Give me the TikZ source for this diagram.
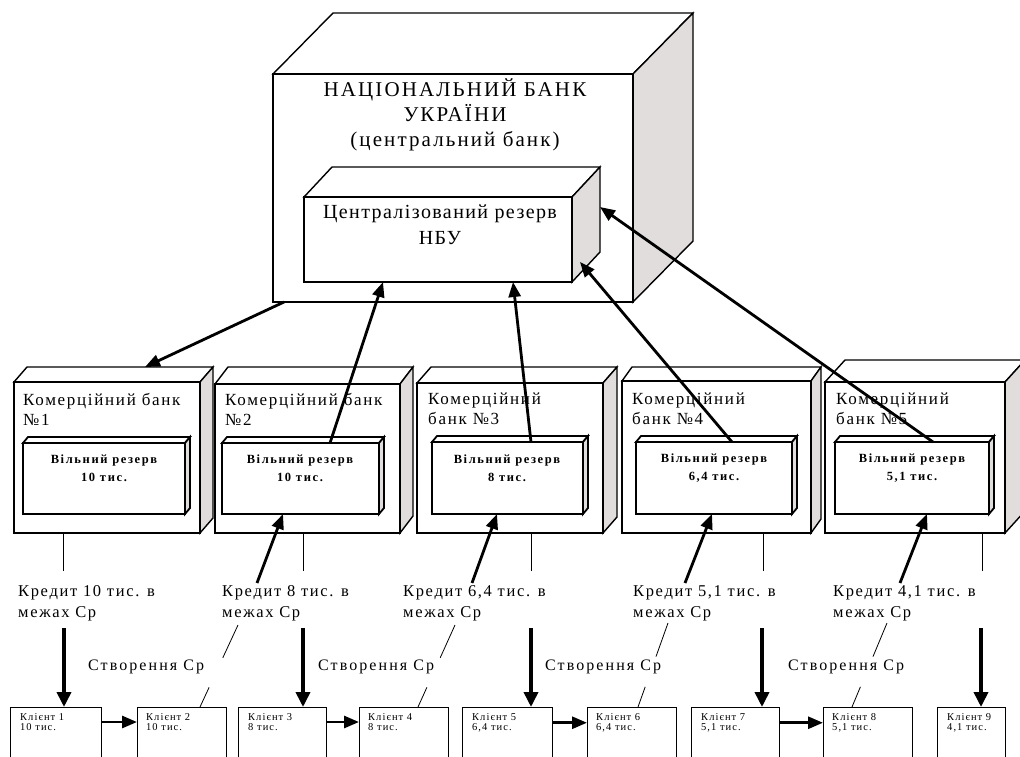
\documentclass[tikz,border=0pt]{standalone}
\usepackage{fontspec}
\setmainfont{Liberation Serif}
\newfontfamily\spA{Liberation Serif}[LetterSpace=7]
\newfontfamily\spB{Liberation Serif}[LetterSpace=10]
\newfontfamily\spC{Liberation Serif}[LetterSpace=13]
\usetikzlibrary{arrows.meta,calc}
\definecolor{sidegray}{RGB}{225,221,220}
\tikzset{
  frame/.style={draw=black, fill=white, inner sep=0pt, outer sep=0pt, rectangle},
  side/.style={draw=black, fill=sidegray, line join=miter},
  topf/.style={draw=black, fill=white, line join=miter},
  bigarrow/.style={line width=2.8pt, -{Triangle[length=15pt,width=12pt]}},
  downarrow/.style={line width=3.6pt, -{Triangle[length=15pt,width=14pt]}},
  thinline/.style={line width=0.9pt},
  callout/.style={line width=0.8pt},
  nbutext/.style={align=center, font=\spB\fontsize{21}{25}\selectfont, inner sep=0pt},
  crtext/.style={align=center, font=\spA\fontsize{20}{26}\selectfont, inner sep=0pt},
  banktext/.style={align=left, anchor=north west, font=\spB\fontsize{17}{20}\selectfont, inner sep=0pt},
  restext/.style={align=center, font=\spC\bfseries\fontsize{12.5}{18}\selectfont, inner sep=0pt},
  credtext/.style={align=left, anchor=north west, font=\spB\fontsize{16.5}{21}\selectfont, inner sep=0pt},
  cretext/.style={anchor=west, font=\spC\fontsize{16}{20}\selectfont, inner sep=0pt},
  client/.style={draw=black, line width=1.3pt, fill=white, inner sep=0pt, anchor=north west, minimum width=#1, minimum height=80pt},
  clienttext/.style={align=left, anchor=north west, font=\spB\fontsize{10.5}{10.5}\selectfont, inner sep=0pt},
}
% #1 name, #2 left, #3 top, #4 right, #5 bottom, #6 dx, #7 dy (up), #8 line width
\newcommand\boxthree[8]{%
  \draw[topf, line width=#8] (#2,#3) -- ++(#6,-#7) -- ++({#4-#2},0) -- (#4,#3) -- cycle;
  \draw[side, line width=#8] (#4,#3) -- ++(#6,-#7) -- ++(0,{#5-#3}) -- (#4,#5) -- cycle;
  \node[frame, line width=#8, anchor=north west, minimum width={(#4-#2)*1pt}, minimum height={(#5-#3)*1pt}] (#1) at (#2,#3) {};
}
\begin{document}
\begin{tikzpicture}[x=1pt,y=-1pt]
\useasboundingbox (0,0) rectangle (1020,756);
\clip (0,0) rectangle (1020,756);

% National bank
\boxthree{nbu}{273}{74}{633}{302}{60}{61}{1.4pt}
\node[nbutext] (nbut) at (455,115) {НАЦІОНАЛЬНИЙ БАНК\\УКРАЇНИ\\(центральний банк)};
\boxthree{cres}{304}{197}{572}{282}{28}{30}{1.4pt}
\node[crtext] (crest) at (440,225) {Централізований резерв\\НБУ};

% Commercial banks
\boxthree{b1}{14}{382}{200}{533}{13}{15}{1.4pt}
\boxthree{b2}{215}{384}{400}{533}{13}{17}{1.4pt}
\boxthree{b3}{417}{383}{603}{533}{14}{16}{1.4pt}
\boxthree{b4}{622}{381}{811}{533}{10}{14}{1.4pt}
\boxthree{b5}{825}{382}{1005}{533}{20}{22}{1.4pt}

\node[banktext] (bt1) at (23,393) {Комерційний банк\\№1};
\node[banktext] (bt2) at (225,393) {Комерційний банк\\№2};
\node[banktext] (bt3) at (428,393) {Комерційний\\банк №3};
\node[banktext] (bt4) at (632,393) {Комерційний\\банк №4};
\node[banktext] (bt5) at (836,393) {Комерційний\\банк №5};

% Free reserves
\boxthree{r1}{23}{443}{185}{514}{5}{6}{1.8pt}
\boxthree{r2}{222}{443}{379}{514}{5}{6}{1.8pt}
\boxthree{r3}{432}{442}{583}{514}{5}{6}{1.8pt}
\boxthree{r4}{636}{442}{792}{514}{5}{6}{1.8pt}
\boxthree{r5}{835}{442}{989}{514}{5}{6}{1.8pt}
\node[restext] (rt1) at (104,468) {Вільний резерв\\10 тис.};
\node[restext] (rt2) at (300,468) {Вільний резерв\\10 тис.};
\node[restext] (rt3) at (507,468) {Вільний резерв\\8 тис.};
\node[restext] (rt4) at (714,468) {Вільний резерв\\6,4 тис.};
\node[restext] (rt5) at (912,468) {Вільний резерв\\5,1 тис.};

% Credit labels
\node[credtext] (k1) at (18,585) {Кредит 10 тис. в\\межах Ср};
\node[credtext] (k2) at (222,585) {Кредит 8 тис. в\\межах Ср};
\node[credtext] (k3) at (403,585) {Кредит 6,4 тис. в\\межах Ср};
\node[credtext] (k4) at (633,585) {Кредит 5,1 тис. в\\межах Ср};
\node[credtext] (k5) at (833,585) {Кредит 4,1 тис. в\\межах Ср};

% "Створення Ср" labels
\node[cretext] (s1) at (88,667) {Створення Ср};
\node[cretext] (s2) at (318,667) {Створення Ср};
\node[cretext] (s3) at (545,667) {Створення Ср};
\node[cretext] (s4) at (788,667) {Створення Ср};

% Clients
\node[client=91pt] (c1) at (10,707) {};
\node[client=89pt] (c2) at (137,707) {};
\node[client=88pt] (c3) at (238,707) {};
\node[client=89pt] (c4) at (359,707) {};
\node[client=90pt] (c5) at (462,707) {};
\node[client=89pt] (c6) at (587,707) {};
\node[client=88pt] (c7) at (691,707) {};
\node[client=89pt] (c8) at (823,707) {};
\node[client=68pt] (c9) at (937,707) {};
\node[clienttext] (ct1) at (20,713) {Клієнт 1\\10 тис.};
\node[clienttext] (ct2) at (146,713) {Клієнт 2\\10 тис.};
\node[clienttext] (ct3) at (248,713) {Клієнт 3\\8 тис.};
\node[clienttext] (ct4) at (368,713) {Клієнт 4\\8 тис.};
\node[clienttext] (ct5) at (472,713) {Клієнт 5\\6,4 тис.};
\node[clienttext] (ct6) at (596,713) {Клієнт 6\\6,4 тис.};
\node[clienttext] (ct7) at (701,713) {Клієнт 7\\5,1 тис.};
\node[clienttext] (ct8) at (832,713) {Клієнт 8\\5,1 тис.};
\node[clienttext] (ct9) at (947,713) {Клієнт 9\\4,1 тис.};

% Arrows between NBU and banks
\draw[bigarrow] ([xshift=11pt]nbu.south west) -- ([xshift=131pt,yshift=15pt]b1.north west);
\draw[bigarrow] ([xshift=108pt]r2.north west) -- ([xshift=79pt]cres.south west);
\draw[bigarrow] ([xshift=99pt]r3.north west) -- ([xshift=209pt]cres.south west);
\draw[bigarrow] ([xshift=96pt]r4.north west) -- ([xshift=8pt,yshift=20pt]cres.south east);
\draw[bigarrow] ([xshift=98pt]r5.north west) -- ([xshift=28pt,yshift=-10pt]cres.north east);

% Thin lines from banks to credit labels
\coordinate (l1) at (63,571);
\coordinate (l2) at (303,571);
\coordinate (l3) at (531,571);
\coordinate (l4) at (763,571);
\coordinate (l5) at (982,571);
\draw[thinline] (b1.south west -| l1) -- (l1);
\draw[thinline] (b2.south west -| l2) -- (l2);
\draw[thinline] (b3.south west -| l3) -- (l3);
\draw[thinline] (b4.south west -| l4) -- (l4);
\draw[thinline] (b5.south west -| l5) -- (l5);

% Credit arrows back to free reserves
\coordinate (u2) at (257,583);
\coordinate (u3) at (472,583);
\coordinate (u4) at (685,583);
\coordinate (u5) at (900,583);
\draw[bigarrow] (u2) -- ([xshift=61pt]r2.south west);
\draw[bigarrow] (u3) -- ([xshift=65pt]r3.south west);
\draw[bigarrow] (u4) -- ([xshift=76pt]r4.south west);
\draw[bigarrow] (u5) -- ([xshift=92pt]r5.south west);

% Down arrows to clients
\coordinate (d1) at (64,628);
\coordinate (d2) at (303,628);
\coordinate (d3) at (531,628);
\coordinate (d4) at (762,628);
\coordinate (d5) at (981,628);
\draw[downarrow] (d1) -- (d1 |- c1.north);
\draw[downarrow] (d2) -- (d2 |- c3.north);
\draw[downarrow] (d3) -- (d3 |- c5.north);
\draw[downarrow] (d4) -- (d4 |- c7.north);
\draw[downarrow] (d5) -- (d5 |- c9.north);

% Client to client arrows
\draw[bigarrow] (c1.east |- ct1.west) -- (c2.west |- ct1.west);
\draw[bigarrow] (c3.east |- ct3.west) -- (c4.west |- ct3.west);
\draw[bigarrow] (c5.east |- ct5.west) -- (c6.west |- ct5.west);
\draw[bigarrow] (c7.east |- ct7.west) -- (c8.west |- ct7.west);

% Callout lines for "Створення Ср"
\coordinate (a1) at (238,625); \coordinate (e1) at (200,707);
\coordinate (a2) at (455,625); \coordinate (e2) at (418,707);
\coordinate (a3) at (668,623); \coordinate (e3) at (638,707);
\coordinate (a4) at (887,623); \coordinate (e4) at (852,707);
\foreach \i in {1,2,3,4}{
  \draw[callout] (a\i) -- ($(a\i)!0.4!(e\i)$);
  \draw[callout] ($(a\i)!0.76!(e\i)$) -- (e\i);
}
\end{tikzpicture}
\end{document}
